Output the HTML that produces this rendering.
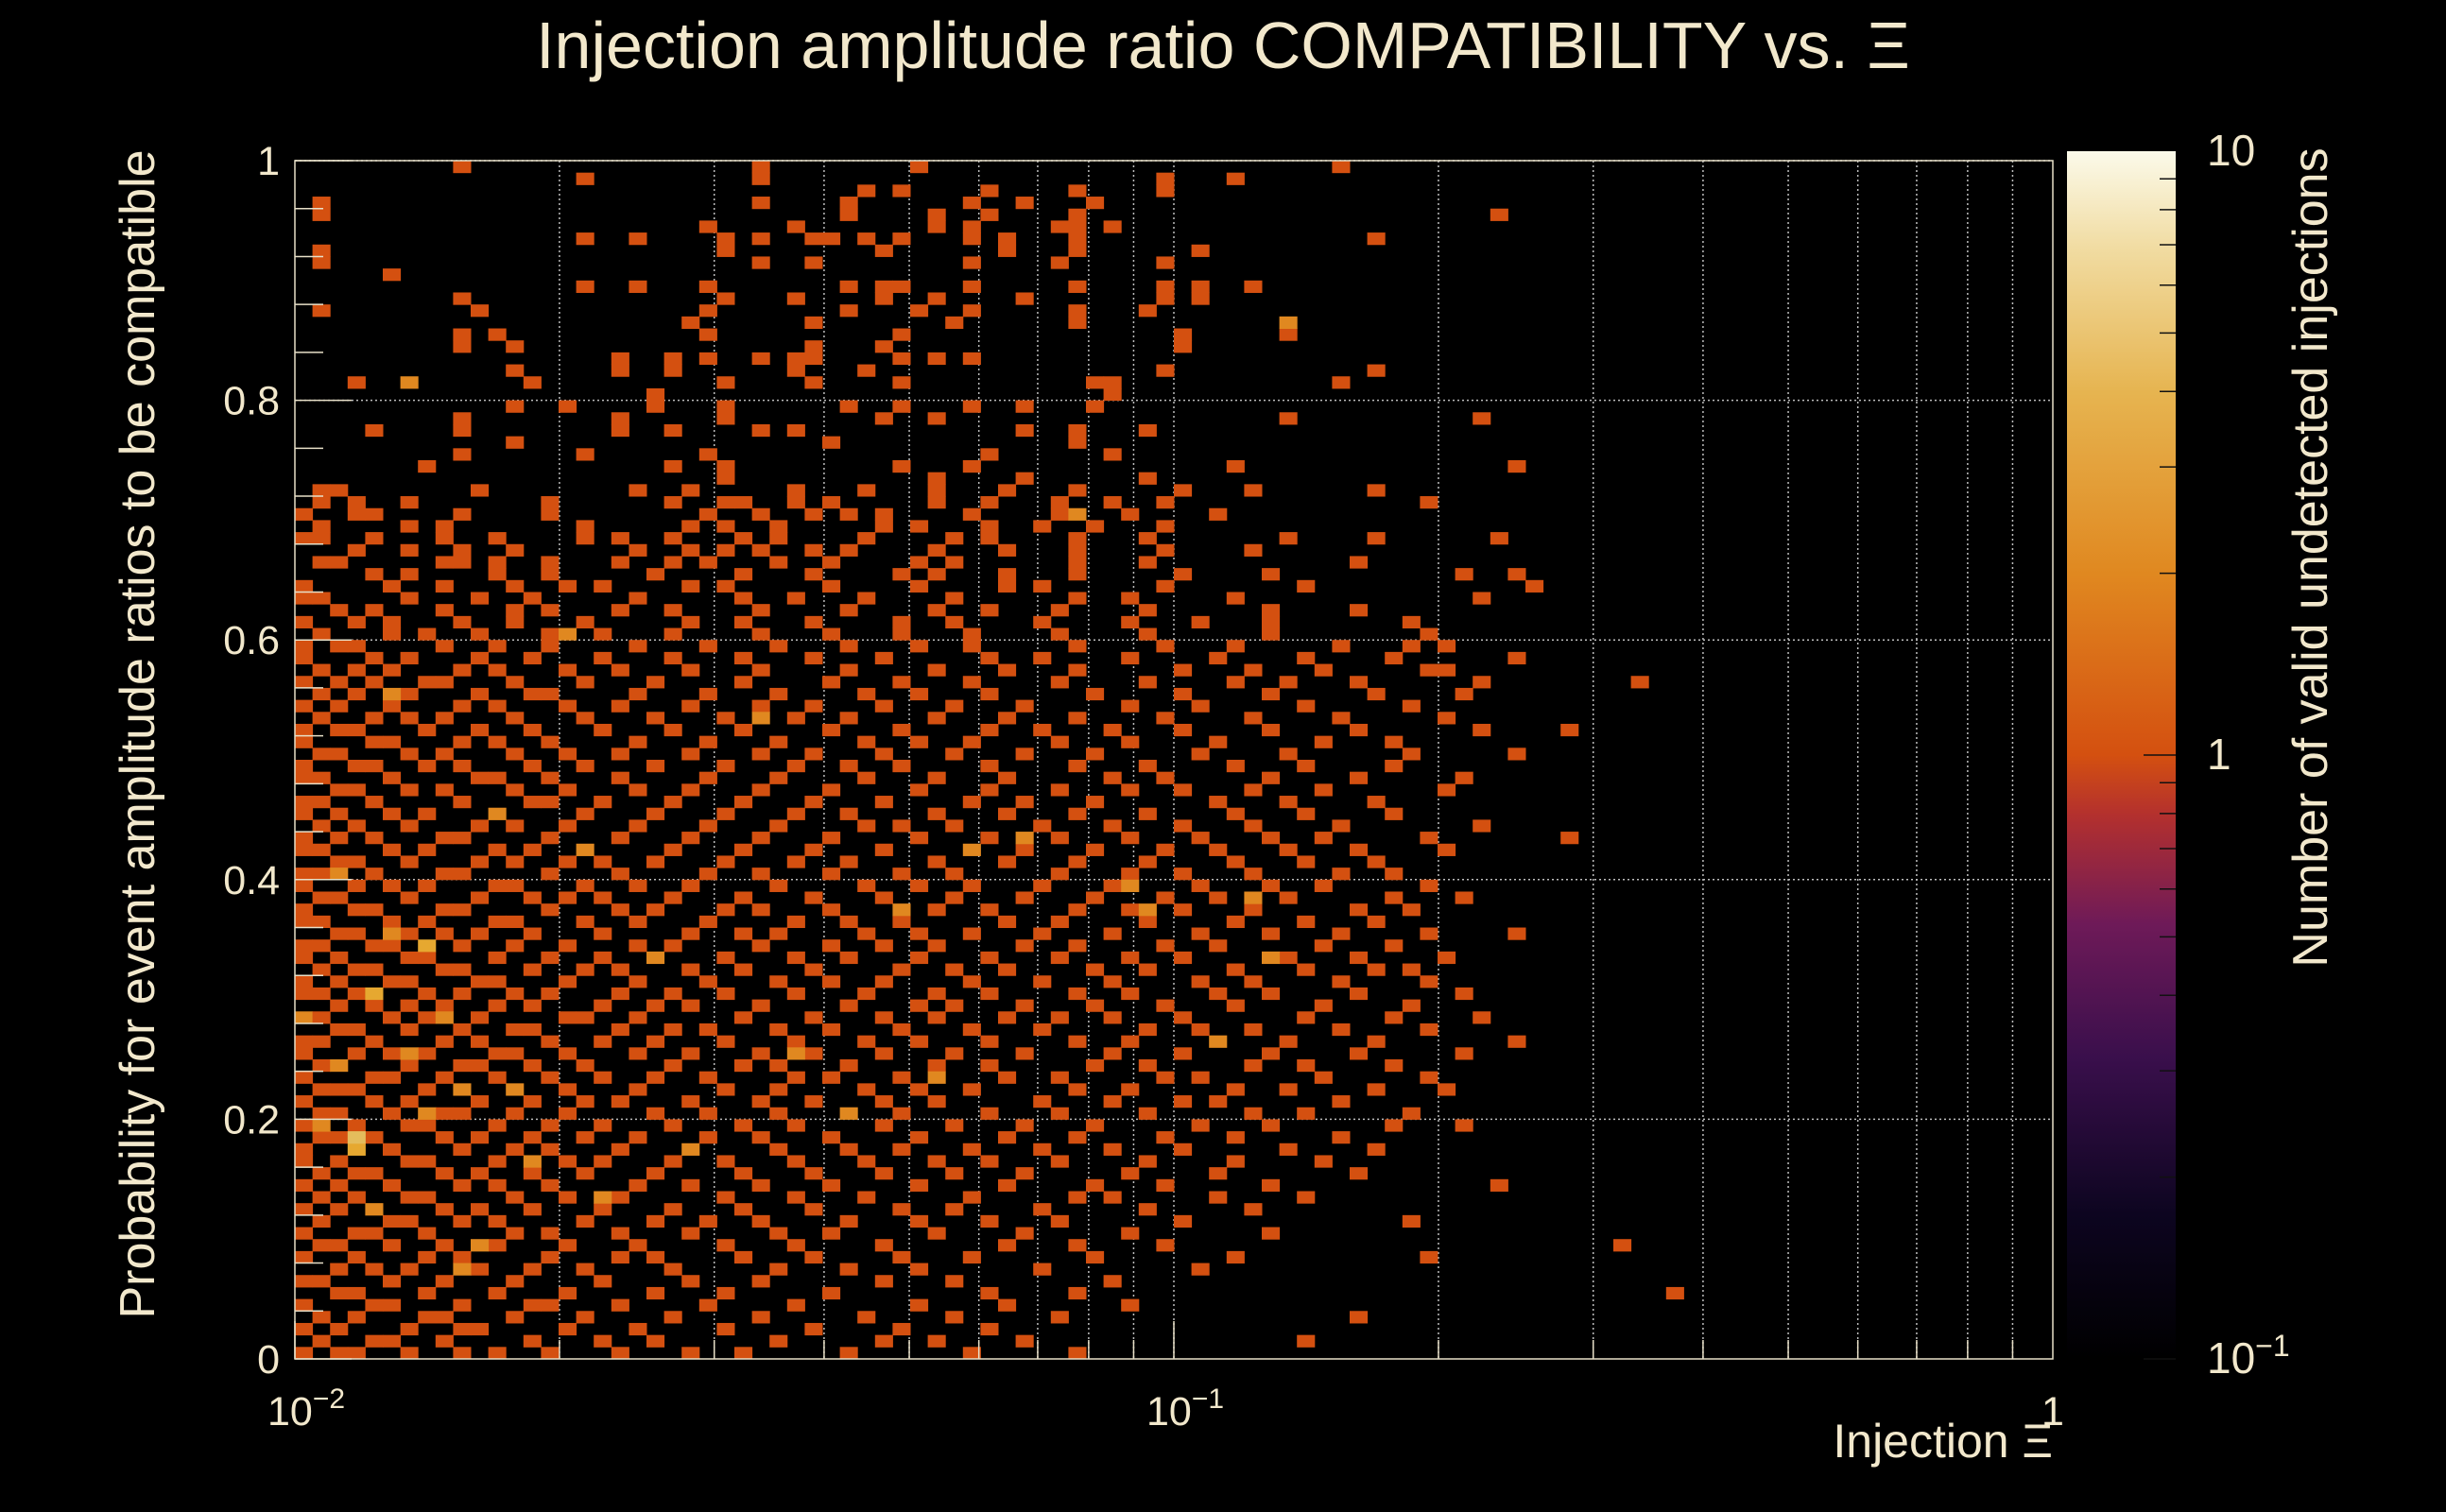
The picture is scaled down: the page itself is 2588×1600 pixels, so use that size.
<!DOCTYPE html>
<html>
<head>
<meta charset="utf-8">
<style>
html,body{margin:0;padding:0;background:#000;}
svg{display:block;}
text{font-family:"Liberation Sans",sans-serif;fill:#f2e8cc;}
</style>
</head>
<body>
<svg id="chart" width="2588" height="1600" viewBox="0 0 2588 1600" xmlns="http://www.w3.org/2000/svg">
<defs>
<linearGradient id="cbgrad" x1="0" y1="1" x2="0" y2="0">
<stop offset="0" stop-color="#000000"/>
<stop offset="0.12" stop-color="#0d0520"/>
<stop offset="0.25" stop-color="#3a0f4c"/>
<stop offset="0.36" stop-color="#6e1a58"/>
<stop offset="0.45" stop-color="#b3302e"/>
<stop offset="0.5" stop-color="#d45010"/>
<stop offset="0.65" stop-color="#e08820"/>
<stop offset="0.8" stop-color="#e6b450"/>
<stop offset="0.92" stop-color="#f1dca2"/>
<stop offset="1" stop-color="#fbfaea"/>
</linearGradient>
</defs>
<rect x="0" y="0" width="2588" height="1600" fill="#000"/>
<g id="grid"></g>
<g id="cells"></g>
<g id="axes"></g>
<text x="1294" y="72" font-size="70" text-anchor="middle">Injection amplitude ratio COMPATIBILITY vs.  Ξ</text>
<text x="2172" y="1542" font-size="50" text-anchor="end">Injection Ξ</text>
<text transform="translate(163,777) rotate(-90)" font-size="52" text-anchor="middle">Probability for event amplitude ratios to be compatible</text>
<rect x="2187" y="160" width="115" height="1278" fill="url(#cbgrad)"/>
<g id="cbaxis"></g>
<text transform="translate(2462,590) rotate(-90)" font-size="52" text-anchor="middle">Number of valid undetected injections</text>
</svg>
<script>
// ---- data ----
const xBinCount = 100;           // log bins over [1e-2, 1]
const yBinCount = 100;           // linear bins over [0, 1]
const rowBins = [
[0,2,3,6,9,11,14,18,22,25,31,38,44],
[1,4,5,8,13,17,20,27,33,36,41,57],
[0,2,6,9,10,15,19,24,29,34,39],
[1,3,7,8,12,16,21,26,32,37,43,60],
[0,4,5,9,13,14,18,23,28,35,40,47],
[2,3,7,11,15,20,24,30,39,44,78],
[0,1,5,8,12,17,22,26,33,37,46],
[2,4,6,10,13,16,21,27,31,35,42,51],
[0,3,7,9,14,18,20,25,29,34,38,45,53,64],
[1,2,5,8,11,15,19,24,28,33,40,44,49,75],
[0,3,4,7,12,14,18,22,27,30,36,41,47,55],
[1,5,6,9,11,16,20,23,26,31,35,39,43,50,63],
[0,2,4,8,10,13,17,21,25,29,34,37,42,48,54],
[1,3,6,7,12,15,18,24,28,32,38,44,46,52,57],
[0,2,5,9,11,14,19,22,26,30,35,40,45,49,55,68],
[1,3,4,8,10,13,16,20,25,29,33,37,41,47,52,60],
[0,2,6,7,11,15,17,21,24,28,32,36,39,43,48,53,58],
[0,3,5,9,12,14,18,22,27,31,34,38,42,46,50,56,61],
[1,2,4,8,10,13,16,19,23,26,30,35,40,44,49,53,59],
[0,3,6,7,11,14,17,21,25,28,33,37,41,45,51,55,62,66],
[1,2,5,8,9,12,15,20,23,27,31,34,39,43,48,54,57,63],
[0,4,6,10,13,16,18,22,26,29,33,36,42,46,50,52,59],
[1,2,3,7,9,12,15,19,24,27,32,35,38,44,47,53,56,61,65],
[0,4,5,8,11,14,17,20,23,28,30,34,40,43,49,51,58,64],
[1,2,6,9,10,13,16,21,25,27,31,36,39,45,48,54,57,62],
[0,3,5,7,11,12,15,19,22,26,29,33,37,41,46,50,55,60,66],
[0,1,4,8,10,14,17,20,24,28,32,35,39,44,47,52,56,61,69],
[2,3,6,9,12,13,18,21,23,27,30,34,38,42,48,51,54,59,64],
[0,1,5,7,10,15,16,19,25,29,33,36,40,43,46,50,57,62,67],
[2,4,6,8,11,13,17,20,22,26,31,35,37,41,45,49,53,58,63],
[0,1,3,7,9,12,14,18,21,24,28,32,36,39,44,47,52,55,60,66],
[0,2,5,6,10,11,15,19,23,27,30,33,38,42,46,51,54,59,64],
[1,3,4,8,9,13,16,18,22,25,29,34,37,40,45,48,53,57,61,63],
[0,2,6,7,11,14,17,20,24,28,31,35,39,43,47,50,56,60,65],
[0,1,4,5,9,12,15,19,21,26,30,33,36,41,44,49,52,58,62],
[2,3,6,8,10,13,17,22,25,27,32,35,38,42,46,51,55,59,64,69],
[0,1,5,7,11,12,16,19,23,28,31,34,40,43,48,53,57,61],
[0,3,4,8,9,14,18,20,24,26,30,36,39,44,47,50,54,60,63],
[1,2,6,10,13,15,17,21,25,29,33,37,41,45,49,52,56,62,66],
[0,3,5,7,11,12,16,19,22,27,32,35,38,42,46,51,55,58,64],
[0,1,4,8,9,14,18,23,26,30,34,37,43,47,50,54,59,62],
[2,3,6,10,12,15,17,20,24,28,31,36,40,44,48,53,57,61],
[0,1,5,7,11,13,16,21,25,29,33,38,41,45,49,52,56,60,65],
[0,2,4,8,9,14,18,22,26,30,35,39,43,47,51,55,58,64,72],
[1,3,6,10,12,15,19,23,27,32,34,37,42,46,50,54,59,67],
[0,2,5,7,11,16,20,24,28,31,36,40,44,48,53,57,62],
[0,1,4,9,13,14,17,21,25,29,33,38,41,45,52,56,61],
[2,3,6,8,12,15,19,22,26,30,35,39,43,47,50,54,58,65],
[0,1,5,10,11,14,18,23,27,32,36,40,46,49,55,60,66],
[0,3,4,7,9,13,16,20,24,28,31,34,39,44,48,53,57,62],
[1,2,6,8,12,15,18,22,26,29,33,37,41,45,51,56,63,69],
[0,4,5,9,11,14,19,23,27,32,35,38,43,47,52,58,62],
[0,2,3,7,10,13,17,21,25,30,34,39,42,46,50,55,60,67,72],
[1,4,6,8,12,16,20,24,28,31,36,40,44,49,54,59,65],
[0,2,5,9,11,15,18,22,26,29,33,37,41,47,51,57,63],
[1,3,6,10,13,14,19,23,27,32,35,39,45,50,55,61,66],
[0,2,4,7,8,12,16,20,25,30,34,38,43,48,53,56,60,67,76],
[1,3,5,9,11,15,18,22,26,31,36,40,44,50,54,58,64,65],
[0,4,6,10,13,17,21,25,29,33,39,42,47,52,57,62,69],
[0,2,3,8,11,14,19,23,27,31,35,38,44,49,53,59,63,65],
[1,5,7,10,14,17,21,26,30,34,38,43,48,55,64],
[0,3,5,9,12,16,22,25,29,34,37,42,47,51,55,63],
[2,4,8,12,14,18,21,26,31,36,39,43,48,55,60],
[0,1,6,10,13,19,25,28,32,37,44,47,53,67],
[0,5,8,12,15,17,22,24,30,35,40,42,49,57,70],
[4,6,11,14,20,25,29,34,36,40,44,50,55,66,69],
[1,2,8,9,11,14,18,21,23,27,30,35,37,44,48,60],
[3,6,9,12,19,22,24,26,29,31,36,40,44,49,54],
[0,1,4,8,11,16,18,21,25,27,32,37,39,44,48,56,61,68],
[1,6,8,16,22,24,27,33,35,39,42,45,49],
[0,3,4,9,14,23,26,29,31,33,38,43,47,52],
[1,3,6,14,21,24,25,28,30,36,39,43,46,49,64],
[1,2,10,19,22,28,32,36,40,44,50,54,61],
[24,36,41,48],
[7,21,24,34,38,53,69],
[9,16,23,39,46],
[12,30,44],
[4,9,18,21,26,28,41,44,48],
[9,18,24,33,36,56,67],
[12,15,20,24,31,34,38,41,45],
[20,46],
[3,6,13,24,29,34,45,46,59],
[12,18,21,28,32,49,61],
[18,21,23,26,28,29,34,36,38],
[9,12,29,33,50],
[9,11,23,34,50,56],
[22,29,37,44],
[1,10,23,31,35,38,44,48],
[9,24,28,33,36,41,49,51],
[16,19,23,31,33,34,38,44,49,51,54],
[5],
[1,26,29,38,43,49],
[1,24,33,40,44,51],
[16,19,24,26,29,30,32,34,38,40,44,61],
[23,28,36,38,43,44,46],
[1,31,36,39,44,68],
[1,26,31,38,41,45],
[32,34,39,44,49],
[16,26,49,53],
[9,26,35,59]
];
const brightX = [1,3,6,7,9,0,5,7,22,36,52,55,48,47,54,41,38,34,31,16,56,6,4,9,12,17,3,2,11,26,4,8,10,13,2,5,15,44,28,20];
const brightY = [19,17,25,20,22,28,35,34,17,23,26,33,37,39,38,43,42,37,20,42,86,81,12,7,22,13,18,24,45,53,30,28,9,16,40,55,60,70,25,33];
const brightCount = [2,3,2,2,2,2,2,3,2,2,2,2,2,2,2,2,2,2,2,2,2,2,2,2,2,2,4,2,2,2,3,2,2,2,2,2,2,2,2,2];
const yTickLabels = ["0","0.2","0.4","0.6","0.8","1"];
const yTickValues = [0,0.2,0.4,0.6,0.8,1];
const xDecades = [-2,-1,0];
const cbTickValues = [0.1,1,10];
const cbTickLabels = ["10","1","10"];

// ---- geometry ----
const X0 = 312, X1 = 2172, Y0 = 1438, Y1 = 170;
const CB_Y0 = 1438, CB_Y1 = 160;
const SVGNS = "http://www.w3.org/2000/svg";
function xScale(v){ return X0 + (Math.log10(v) + 2) / 2 * (X1 - X0); }
function xLogScale(l){ return X0 + (l + 2) / 2 * (X1 - X0); }
function yScale(v){ return Y0 - v * (Y0 - Y1); }
function cbScale(v){ return CB_Y0 - (Math.log10(v) + 1) / 2 * (CB_Y0 - CB_Y1); }
function colorFor(c){ return c >= 4 ? "#e4bc5c" : c >= 3 ? "#e6a830" : (c >= 2 ? "#e08820" : "#d45010"); }
function mk(tag, attrs, parent){
  const e = document.createElementNS(SVGNS, tag);
  for (const k in attrs) e.setAttribute(k, attrs[k]);
  parent.appendChild(e);
  return e;
}

const grid = document.getElementById("grid");
const cells = document.getElementById("cells");
const axes = document.getElementById("axes");
const cbaxis = document.getElementById("cbaxis");

// grid lines
for (let d = -2; d < 0; d++) {
  for (let m = 1; m <= 9; m++) {
    const v = m * Math.pow(10, d);
    if (d === -2 && m === 1) continue;
    const x = xScale(v);
    const gl = mk("line", {x1:x, x2:x, y1:Y1, y2:Y0, stroke:"#bdbdbd", "stroke-width":1.5, "stroke-dasharray":"2,3"}, grid);
    
    
  }
}
yTickValues.forEach(v => {
  if (v === 0) return;
  const y = yScale(v);
  const gl = mk("line", {x1:X0, x2:X1, y1:y, y2:y, stroke:"#bdbdbd", "stroke-width":1.5, "stroke-dasharray":"2,3"}, grid);
  
  
});

// cells
const cw = (X1 - X0) / xBinCount, ch = (Y0 - Y1) / yBinCount;
const countMap = {};
rowBins.forEach((row, j) => row.forEach(i => { countMap[i + "," + j] = 1; }));
brightX.forEach((bx, k) => { countMap[bx + "," + brightY[k]] = brightCount[k]; });
Object.keys(countMap).forEach(key => {
  const [i, j] = key.split(",").map(Number);
  const lx = -2 + i * 2 / xBinCount;
  const yv = (j + 1) / yBinCount;
  const r = mk("rect", {x:xLogScale(lx), y:yScale(yv), width:cw + 0.5, height:ch + 0.5, fill:colorFor(countMap[key])}, cells);
  
  
});

// frame
const fr = mk("rect", {x:X0, y:Y1, width:X1 - X0, height:Y0 - Y1, fill:"none", stroke:"#e8e0c8", "stroke-width":1.5}, axes);



// y ticks
for (let k = 0; k <= 25; k++) {
  const v = k * 0.04;
  const y = yScale(v);
  const len = (k % 5 === 0) ? 60 : 30;
  const t = mk("line", {x1:X0, x2:X0 + len, y1:y, y2:y, stroke:"#e8e0c8", "stroke-width":1.5}, axes);
  
  
}
yTickValues.forEach((v, k) => {
  const t = mk("text", {x:X0 - 16, y:yScale(v) + 15, "font-size":43, "text-anchor":"end"}, axes);
  t.textContent = yTickLabels[k];
  
  
});

// x ticks
for (let d = -2; d < 0; d++) {
  for (let m = 1; m <= 9; m++) {
    const x = xScale(m * Math.pow(10, d));
    const len = m === 1 ? 40 : 20;
    const t = mk("line", {x1:x, x2:x, y1:Y0, y2:Y0 - len, stroke:"#e8e0c8", "stroke-width":1.5}, axes);
    
    
  }
}
xDecades.forEach(d => {
  const x = xLogScale(d);
  const t = mk("text", {x:x, y:1508, "font-size":43, "text-anchor":"middle"}, axes);
  if (d === 0) {
    t.textContent = "1";
  } else {
    t.textContent = "10";
    const s = mk("tspan", {dy:-18, "font-size":30}, t);
    s.textContent = "\u2212" + Math.abs(d);
    t.setAttribute("x", x + 12);
  }
  
  
});

// colorbar ticks
const cbx = 2302;
for (let d = -1; d < 1; d++) {
  for (let m = 1; m <= 9; m++) {
    const v = m * Math.pow(10, d);
    const y = cbScale(v);
    const len = m === 1 ? 34 : 17;
    const t = mk("line", {x1:cbx, x2:cbx - len, y1:y, y2:y, stroke:"#111", "stroke-width":1.5}, cbaxis);
    
    
  }
}
cbTickValues.forEach((v, k) => {
  const y = cbScale(v);
  const t = mk("text", {x:2335, y:y + 15, "font-size":46}, cbaxis);
  t.textContent = cbTickLabels[k];
  if (v < 1) {
    const s = mk("tspan", {dy:-18, "font-size":32}, t);
    s.textContent = "\u22121";
  }
  
  
});
</script>
</body>
</html>
